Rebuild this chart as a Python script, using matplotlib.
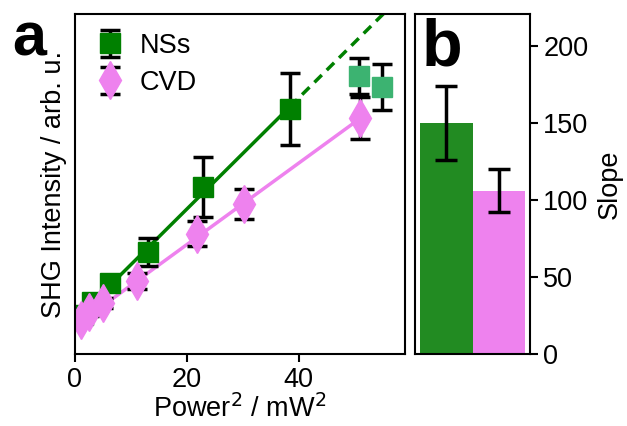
import numpy as np
import matplotlib
matplotlib.use('Agg')
from matplotlib import pyplot as plt

plt.rcParams['font.family'] = ['Liberation Sans', 'DejaVu Sans']
plt.rcParams['font.size'] = 19.5
plt.rcParams['axes.linewidth'] = 1.5

# Panel a: SHG intensity vs power^2 (arbitrary units)
nss_x = [1.4, 3.0, 6.3, 13.1, 22.8, 38.4]
nss_y = [1000, 1350, 1860, 2700, 4450, 6560]
nss_err = [110, 110, 135, 380, 810, 970]

sat_x = [50.8, 54.9]
sat_y = [7450, 7155]
sat_err = [490, 620]

cvd_x = [1.1, 2.5, 5.0, 11.1, 21.9, 30.3, 51.0]
cvd_y = [860, 1080, 1320, 1920, 3190, 4000, 6320]
cvd_err = [110, 110, 135, 216, 340, 405, 567]

# linear fits (slope, intercept)
nss_fit = (150, 860)
cvd_fit = (110, 700)

# Panel b: slopes
labels = ['NSs', 'CVD']
slopes = [150, 106]
slope_err = [24, 14]

fig = plt.figure(figsize=(6.27, 4.26), dpi=100)
ax = fig.add_axes([75 / 627, 72 / 426, 330 / 627, 340 / 426])
bx = fig.add_axes([415 / 627, 72 / 426, 115 / 627, 340 / 426])

ebkw = dict(ecolor='black', elinewidth=2.5, capsize=7, capthick=2.5, linestyle='none')

# fit lines
xs = np.array([0.3, nss_x[-1]])
ax.plot(xs, nss_fit[0] * xs + nss_fit[1], color='green', lw=2.5, zorder=1)
xd = np.array([nss_x[-1], 62])
ax.plot(xd, nss_fit[0] * xd + nss_fit[1], color='green', lw=2.5, ls=(0, (3, 2)), zorder=1)
xc = np.array([cvd_x[0], cvd_x[-1]])
ax.plot(xc, cvd_fit[0] * xc + cvd_fit[1], color='violet', lw=2.5, zorder=1)

h1 = ax.errorbar(nss_x, nss_y, yerr=nss_err, marker='s', ms=15, color='green', label='NSs', **ebkw)
ax.errorbar(sat_x, sat_y, yerr=sat_err, marker='s', ms=15, color='mediumseagreen', **ebkw)
h2 = ax.errorbar(cvd_x, cvd_y, yerr=cvd_err, marker='d', ms=19, color='violet', label='CVD', **ebkw)

ax.set_xlim(0, 59)
ax.set_ylim(-54, 9126)
ax.set_xticks([0, 20, 40])
ax.set_yticks([])
ax.tick_params(axis='x', direction='out', length=6, width=1.5)
ax.set_xlabel('Power$^2$ / mW$^2$', labelpad=1)
ax.set_ylabel('SHG Intensity / arb. u.', labelpad=6)
ax.legend(handles=[h1, h2], loc='upper left', frameon=False, handletextpad=0.5,
          borderaxespad=0.3, labelspacing=0.4, handlelength=1.2)
fig.text(12 / 627, 1 - 55 / 426, 'a', fontsize=44, fontweight='bold', va='baseline')

# bars
bx.bar([0, 1], slopes, width=1, color=['forestgreen', 'violet'])
bx.errorbar([0, 1], slopes, yerr=slope_err, fmt='none', ecolor='black',
            elinewidth=2.5, capsize=8, capthick=2.5)
bx.set_xlim(-0.6, 1.6)
bx.set_ylim(0, 221)
bx.set_xticks([])
bx.set_yticks([0, 50, 100, 150, 200])
bx.yaxis.tick_right()
bx.yaxis.set_label_position('right')
bx.tick_params(axis='y', direction='out', length=6, width=1.5)
bx.set_ylabel('Slope', labelpad=6)
bx.text(0.06, 0.99, 'b', transform=bx.transAxes, fontsize=48, fontweight='bold',
        va='top', ha='left')

plt.savefig('out.png', dpi=100)
